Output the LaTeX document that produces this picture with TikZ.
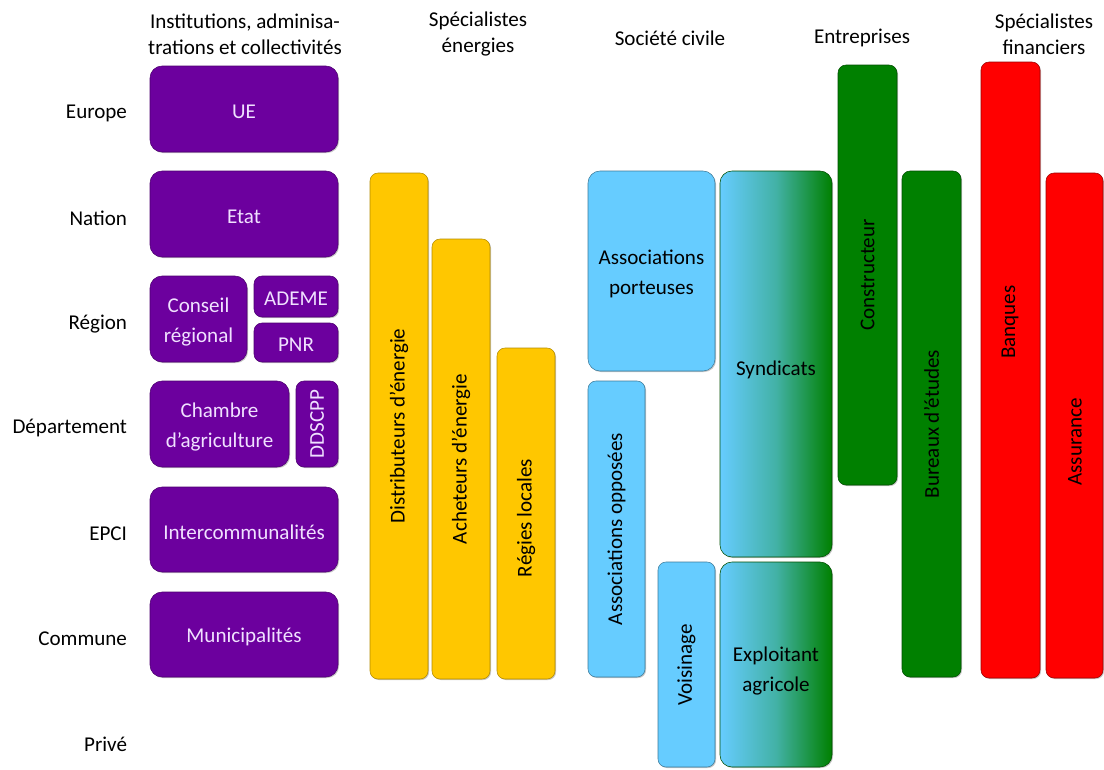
\documentclass[tikz,border=0pt]{standalone}
\usepackage{fontspec}
\setmainfont{Carlito}
\usetikzlibrary{shadows}
\definecolor{purp}{RGB}{108,0,158}
\definecolor{purptxt}{RGB}{240,225,255}
\definecolor{yel}{RGB}{255,199,0}
\definecolor{lblue}{RGB}{102,204,255}
\definecolor{grn}{RGB}{0,128,0}
\definecolor{rd}{RGB}{255,0,0}
\newcommand{\mybox}[6]{\node[#2, minimum width={(#5-#3)*0.75pt}, minimum height={(#6-#4)*0.75pt}] (#1) at ({(#3+#5)/2},{(#4+#6)/2}) {};}
\tikzset{
  every node/.style={font=\fontsize{15.8}{19.5}\selectfont, inner sep=0pt, outer sep=0pt},
  boxfont/.style={font=\fontsize{15.8}{22.5}\selectfont},
  basebox/.style={rectangle, rounded corners=9pt, drop shadow={shadow xshift=0.8pt, shadow yshift=-0.8pt, opacity=0.45}},
  pbox/.style={basebox, fill=purp, draw=purp!70!black, line width=0.4pt},
  ybox/.style={basebox, fill=yel, draw=yel!70!black, line width=0.4pt, rounded corners=6pt},
  bbox/.style={basebox, fill=lblue, draw=lblue!60!black, line width=0.4pt},
  gbbox/.style={basebox, left color=lblue, right color=grn, middle color=lblue!65!grn, draw=grn!60!black, line width=0.4pt},
  gbox/.style={basebox, fill=grn, draw=grn!60!black, line width=0.4pt, rounded corners=6pt},
  rbox/.style={basebox, fill=rd, draw=rd!60!black, line width=0.4pt, rounded corners=6pt},
  ptxt/.style={boxfont, text=purptxt, align=center, yshift=-2pt},
  btxt/.style={boxfont, text=black, align=center, yshift=-2pt},
  vtxt/.style={text=black, rotate=90},
  hdr/.style={text=black, align=center},
  rowlab/.style={text=black, anchor=east, yshift=-1.5pt},
}
\begin{document}
\begin{tikzpicture}[x=0.75pt,y=-0.75pt]
\useasboundingbox (0,0) rectangle (1104,769);
% headers
\node[hdr] (h1) at (245,34) {Institutions, adminisa-\\trations et collectivités};
\node[hdr] (h2) at (478,34) {Spécialistes\\énergies};
\node[hdr] (h3) at (670,38) {Société civile};
\node[hdr] (h4) at (862,38) {Entreprises};
\node[hdr] (h5) at (1044,34) {Spécialistes\\financiers};
% rows
\node[rowlab] (r1) at (127,111) {Europe};
\node[rowlab] (r2) at (127,216) {Nation};
\node[rowlab] (r3) at (127,322) {Région};
\node[rowlab] (r4) at (127,426) {Département};
\node[rowlab] (r5) at (127,532) {EPCI};
\node[rowlab] (r6) at (127,637) {Commune};
\node[rowlab] (r7) at (127,742) {Privé};
% purple
\mybox{ue}{pbox}{150}{66}{338}{152}
\node[ptxt] (uet) at (ue) {UE};
\mybox{etat}{pbox}{150}{171}{338}{257}
\node[ptxt] (etatt) at (etat) {Etat};
\mybox{cr}{pbox}{150}{276}{247}{362}
\node[ptxt] (crt) at (cr) {Conseil\\régional};
\mybox{ademe}{pbox,rounded corners=6pt}{254}{276}{338}{317}
\node[ptxt] (ademet) at (ademe) {ADEME};
\mybox{pnr}{pbox,rounded corners=6pt}{254}{323}{338}{362}
\node[ptxt] (pnrt) at (pnr) {PNR};
\mybox{ca}{pbox}{150}{381}{289}{467}
\node[ptxt] (cat) at (ca) {Chambre\\d’agriculture};
\mybox{dd}{pbox,rounded corners=6pt}{296}{381}{338}{467}
\node[text=purptxt,rotate=90] (ddt) at (dd) {DDSCPP};
\mybox{inter}{pbox}{150}{487}{338}{572}
\node[ptxt] (intert) at (inter) {Intercommunalités};
\mybox{muni}{pbox}{150}{592}{338}{677}
\node[ptxt] (munit) at (muni) {Municipalités};
% yellow
\mybox{dist}{ybox}{370}{173}{428}{679}
\node[vtxt] (distt) at (dist) {Distributeurs d’énergie};
\mybox{ach}{ybox}{432}{239}{490}{679}
\node[vtxt] (acht) at (ach) {Acheteurs d’énergie};
\mybox{reg}{ybox}{497}{348}{555}{679}
\node[vtxt] (regt) at (526,518) {Régies locales};
% blue
\mybox{ap}{bbox}{588}{171}{715}{371}
\node[btxt] (apt) at (ap) {Associations\\porteuses};
\mybox{ao}{bbox,rounded corners=6pt}{588}{381}{645}{677}
\node[vtxt] (aot) at (ao) {Associations opposées};
\mybox{vois}{bbox,rounded corners=6pt}{658}{562}{715}{767}
\node[vtxt] (voist) at (vois) {Voisinage};
\mybox{synd}{gbbox}{720}{171}{832}{557}
\node[btxt] (syndt) at (776,367) {Syndicats};
\mybox{expl}{gbbox}{720}{562}{832}{767}
\node[btxt] (explt) at (776,668) {Exploitant\\agricole};
% green
\mybox{cons}{gbox}{838}{65}{897}{485}
\node[vtxt] (const) at (cons) {Constructeur};
\mybox{be}{gbox}{902}{171}{961}{677}
\node[vtxt] (bet) at (be) {Bureaux d’études};
% red
\mybox{ban}{rbox}{981}{62}{1040}{678}
\node[vtxt] (bant) at (1010,322) {Banques};
\mybox{ass}{rbox}{1046}{173}{1103}{678}
\node[vtxt] (asst) at (1075,442) {Assurance};
\end{tikzpicture}
\end{document}
